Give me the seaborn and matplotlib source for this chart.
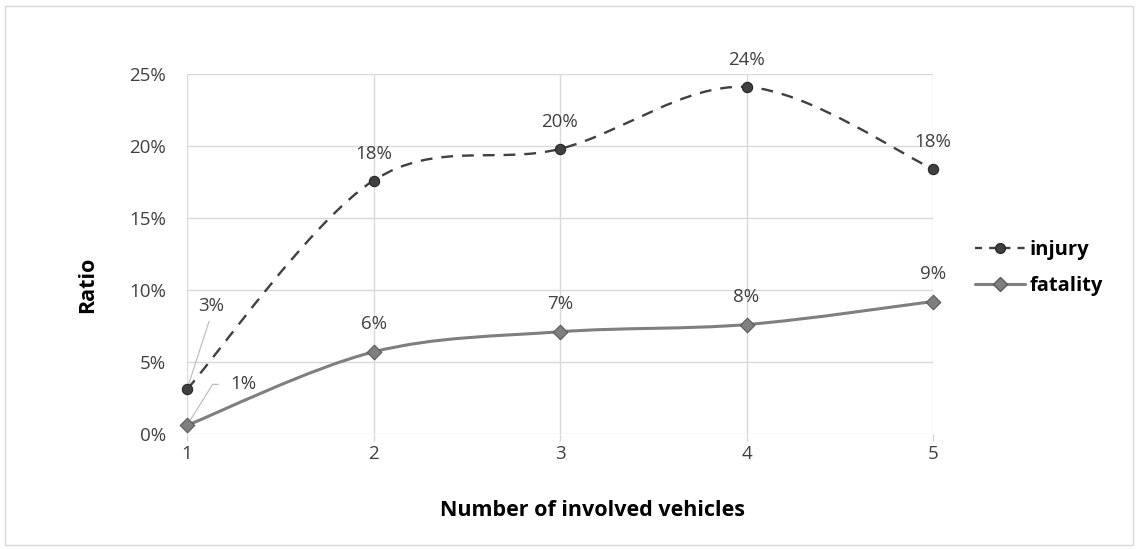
import matplotlib
matplotlib.use("Agg")
import matplotlib.pyplot as plt
from matplotlib.path import Path
from matplotlib.patches import PathPatch, Rectangle
from matplotlib.lines import Line2D
from matplotlib.ticker import PercentFormatter
import numpy as np
import pandas as pd
import seaborn as sns

# Share of crashes by number of involved vehicles (percent)
vehicles = [1, 2, 3, 4, 5]
injury = [3.1, 17.6, 19.8, 24.1, 18.4]
fatality = [0.6, 5.7, 7.1, 7.6, 9.2]
y_ticks = [0, 5, 10, 15, 20, 25]

sns.set_theme(style="white")
plt.rcParams["font.family"] = ["Open Sans", "DejaVu Sans"]

GRID = "#d9d9d9"
TEXT = "#404040"
INJ = "#404040"
FAT = "#7f7f7f"
NUM_SIZE = 13.5
TITLE_SIZE = 15.5

fig = plt.figure(figsize=(11.38, 5.49), dpi=100)
ax = fig.add_axes([187 / 1138, 1 - 434 / 549, 746 / 1138, 360 / 549])


def smooth_path(xs, ys):
    """Cubic Bezier path through the points (Catmull-Rom style control points)."""
    pts = np.column_stack([xs, ys]).astype(float)
    n = len(pts)
    verts = [pts[0]]
    codes = [Path.MOVETO]
    for i in range(n - 1):
        p0 = pts[i - 1] if i > 0 else pts[i]
        p1 = pts[i]
        p2 = pts[i + 1]
        p3 = pts[i + 2] if i + 2 < n else pts[i + 1]
        c1 = p1 + (p2 - p0) / 6.0
        c2 = p2 - (p3 - p1) / 6.0
        verts += [c1, c2, p2]
        codes += [Path.CURVE4] * 3
    return Path(verts, codes)


dash = (0, (5.0, 3.8))
ax.add_patch(PathPatch(smooth_path(vehicles, injury), fill=False, edgecolor=INJ,
                       linewidth=1.7, linestyle=dash, zorder=3, capstyle="butt"))
ax.add_patch(PathPatch(smooth_path(vehicles, fatality), fill=False, edgecolor=FAT,
                       linewidth=2.2, zorder=3))

df = pd.DataFrame({"vehicles": vehicles, "injury": injury, "fatality": fatality})
sns.scatterplot(data=df, x="vehicles", y="injury", marker="o", s=55, color=INJ,
                edgecolor="#262626", linewidth=0.8, ax=ax, zorder=4, clip_on=False)
sns.scatterplot(data=df, x="vehicles", y="fatality", marker="D", s=55, color=FAT,
                edgecolor="#595959", linewidth=0.8, ax=ax, zorder=4, clip_on=False)

ax.set_xlim(1, 5)
ax.set_ylim(0, 25)
ax.set_xticks(vehicles)
ax.set_yticks(y_ticks)
ax.yaxis.set_major_formatter(PercentFormatter(xmax=100, decimals=0))
ax.grid(True, color=GRID, linewidth=1)
for s in ax.spines.values():
    s.set_visible(False)
ax.tick_params(axis="x", length=5, width=1, color=GRID, pad=3, labelsize=NUM_SIZE,
               labelcolor=TEXT, bottom=True)
ax.tick_params(axis="y", length=0, pad=15, labelsize=NUM_SIZE, labelcolor=TEXT)

ax.set_xlabel("Number of involved vehicles", fontsize=TITLE_SIZE, fontweight="bold", color="black")
ax.set_ylabel("Ratio", fontsize=TITLE_SIZE, fontweight="bold", color="black")
ax.xaxis.set_label_coords((593 - 187) / 746, (434 - 510) / 360)
ax.xaxis.label.set_va("center")
ax.yaxis.set_label_coords((88 - 187) / 746, (434 - 285) / 360)
ax.yaxis.label.set_va("center")

# Value labels
lbl = dict(fontsize=NUM_SIZE, color=TEXT, ha="center", va="center", textcoords="offset pixels")
for x, v in zip(vehicles[1:], injury[1:]):
    ax.annotate(f"{v:.0f}%", (x, v), xytext=(0, 27), **lbl)
for x, v in zip(vehicles[1:], fatality[1:]):
    ax.annotate(f"{v:.0f}%", (x, v), xytext=(0, 28), **lbl)

# First points carry callout leaders
ax.annotate(f"{injury[0]:.0f}%", (vehicles[0], injury[0]), xytext=(24, 83),
            textcoords="offset pixels", fontsize=NUM_SIZE, color=TEXT, ha="center", va="center",
            arrowprops=dict(arrowstyle="-", color="#bfbfbf", lw=0.9, relpos=(0.5, 0),
                            shrinkA=2, shrinkB=4))
ax.annotate(f"{fatality[0]:.0f}%", (vehicles[0], fatality[0]), xytext=(56, 41),
            textcoords="offset pixels", fontsize=NUM_SIZE, color=TEXT, ha="center", va="center",
            arrowprops=dict(arrowstyle="-", color="#bfbfbf", lw=0.9, relpos=(0, 0.5),
                            connectionstyle="angle,angleA=0,angleB=58,rad=0",
                            shrinkA=6, shrinkB=4))

handles = [
    Line2D([], [], color=INJ, linestyle=(0, (3.0, 3.0)), linewidth=1.7, marker="o",
           markersize=7, markerfacecolor=INJ, markeredgecolor="#262626"),
    Line2D([], [], color=FAT, linewidth=2.2, marker="D", markersize=7,
           markerfacecolor=FAT, markeredgecolor="#595959"),
]
leg = fig.legend(handles, ["injury", "fatality"], loc="center left",
                 bbox_to_anchor=(957 / 1138, 1 - 268 / 549), frameon=False,
                 prop=dict(weight="bold", size=14.5), handlelength=2.5,
                 handletextpad=0.2, labelspacing=0.75)
for t in leg.get_texts():
    t.set_color("black")

fig.patches.append(Rectangle((5 / 1138, 1 - 545 / 549), 1128 / 1138, 539 / 549,
                             transform=fig.transFigure, fill=False,
                             edgecolor=GRID, linewidth=1, zorder=0))

fig.savefig("out.png", dpi=100)
